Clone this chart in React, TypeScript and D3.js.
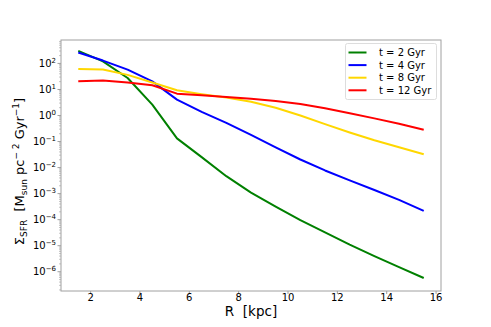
import React, { useEffect, useRef } from 'react';
import * as d3 from 'd3';

const radius = [1.5, 2.5, 3.5, 4.5, 5.5, 6.5, 7.5, 8.5, 9.5, 10.5, 11.5, 12.5, 13.5, 14.5, 15.5];
// log10 of sigma_SFR
const t2 = [2.48, 2.08, 1.44, 0.42, -0.88, -1.6, -2.33, -2.96, -3.5, -4.02, -4.49, -4.96, -5.4, -5.82, -6.24];
const t4 = [2.42, 2.11, 1.76, 1.31, 0.61, 0.14, -0.28, -0.74, -1.22, -1.69, -2.11, -2.49, -2.86, -3.24, -3.66];
const t8 = [1.79, 1.77, 1.56, 1.27, 0.97, 0.82, 0.69, 0.53, 0.3, 0.0, -0.33, -0.65, -0.95, -1.22, -1.49];
const t12 = [1.32, 1.34, 1.27, 1.16, 0.84, 0.78, 0.71, 0.64, 0.56, 0.44, 0.28, 0.09, -0.11, -0.32, -0.55];

const seriesNames = ['t = 2 Gyr', 't = 4 Gyr', 't = 8 Gyr', 't = 12 Gyr'];
const seriesColors = ['#008000', '#0000ff', '#ffd700', '#ff0000'];
const xTicks = [2, 4, 6, 8, 10, 12, 14, 16];
const yExps = [-6, -5, -4, -3, -2, -1, 0, 1, 2];

export default function App() {
  const ref = useRef<SVGSVGElement>(null);

  useEffect(() => {
    const width = 491;
    const height = 327;
    const left = 61, right = 441, top = 40, bottom = 291;
    const font = 'DejaVu Sans, sans-serif';

    const svg = d3.select(ref.current);
    svg.selectAll('*').remove();
    svg.attr('width', width).attr('height', height);

    const x = d3.scaleLinear().domain([0.8, 16.2]).range([left, right]);
    const y = d3.scaleLog().domain([Math.pow(10, -6.74), Math.pow(10, 2.9)]).range([bottom, top]);

    const data = [t2, t4, t8, t12].map(s => s.map((v, i) => ({ r: radius[i], v: Math.pow(10, v) })));

    const line = d3.line<{ r: number; v: number }>()
      .x(d => x(d.r))
      .y(d => y(d.v));

    svg.append('g').selectAll('path').data(data).enter()
      .append('path')
      .attr('d', d => line(d))
      .attr('fill', 'none')
      .attr('stroke', (d, i) => seriesColors[i])
      .attr('stroke-width', 2)
      .attr('stroke-linejoin', 'round');

    // spines
    svg.append('rect')
      .attr('x', left).attr('y', top)
      .attr('width', right - left).attr('height', bottom - top)
      .attr('fill', 'none').attr('stroke', '#a0a0a0').attr('stroke-width', 1);

    // x ticks
    const gx = svg.append('g');
    xTicks.forEach(t => {
      gx.append('line').attr('x1', x(t)).attr('x2', x(t)).attr('y1', bottom).attr('y2', bottom + 3)
        .attr('stroke', '#a0a0a0');
      gx.append('text').attr('x', x(t)).attr('y', bottom + 9.5)
        .attr('text-anchor', 'middle').attr('font-family', font).attr('font-size', 10)
        .attr('fill', '#000').text(t);
    });

    // y ticks, major and minor
    const gy = svg.append('g');
    yExps.forEach(e => {
      const yy = y(Math.pow(10, e));
      gy.append('line').attr('x1', left - 3.5).attr('x2', left).attr('y1', yy).attr('y2', yy)
        .attr('stroke', '#a0a0a0');
      const tx = gy.append('text').attr('x', left - 5).attr('y', yy + 3.5)
        .attr('text-anchor', 'end').attr('font-family', font).attr('font-size', 10).attr('fill', '#000');
      tx.append('tspan').text('10');
      tx.append('tspan').attr('dy', -4).attr('font-size', 7).text(e < 0 ? '\u2212' + Math.abs(e) : String(e));
    });
    for (let e = -7; e <= 2; e++) {
      for (let k = 2; k <= 9; k++) {
        const v = k * Math.pow(10, e);
        if (v < y.domain()[0] || v > y.domain()[1]) continue;
        const yy = y(v);
        gy.append('line').attr('x1', left - 2).attr('x2', left).attr('y1', yy).attr('y2', yy)
          .attr('stroke', '#a0a0a0').attr('stroke-width', 0.6);
      }
    }

    // axis labels
    svg.append('text').attr('x', (left + right) / 2).attr('y', 315.5)
      .attr('text-anchor', 'middle').attr('font-family', font).attr('font-size', 13.5)
      .attr('fill', '#000').style('white-space', 'pre').text('R  [kpc]');

    const yl = svg.append('text')
      .attr('transform', `translate(24, ${(top + bottom) / 2 + 6}) rotate(-90)`)
      .attr('text-anchor', 'middle').attr('font-family', font).attr('font-size', 13).attr('fill', '#000')
      .style('white-space', 'pre');
    yl.append('tspan').text('\u03a3');
    yl.append('tspan').attr('dy', 3).attr('font-size', 9).text('SFR');
    yl.append('tspan').attr('dy', -3).text('  [M');
    yl.append('tspan').attr('dy', 3).attr('font-size', 9).text('sun');
    yl.append('tspan').attr('dy', -3).text(' pc');
    yl.append('tspan').attr('dy', -5).attr('font-size', 9).text('\u2212 2');
    yl.append('tspan').attr('dy', 5).text(' Gyr');
    yl.append('tspan').attr('dy', -5).attr('font-size', 9).text('\u22121');
    yl.append('tspan').attr('dy', 5).text(']');

    // legend
    const lg = svg.append('g');
    lg.append('rect').attr('x', 345.5).attr('y', 43.5).attr('width', 91).attr('height', 56).attr('rx', 2)
      .attr('fill', '#fff').attr('fill-opacity', 0.8).attr('stroke', '#dddddd');
    seriesNames.forEach((n, i) => {
      const yy = 52.5 + i * 12.6;
      lg.append('line').attr('x1', 348.5).attr('x2', 366.5).attr('y1', yy).attr('y2', yy)
        .attr('stroke', seriesColors[i]).attr('stroke-width', 2);
      lg.append('text').attr('x', 379).attr('y', yy + 3.5).attr('font-family', font).attr('font-size', 10)
        .attr('fill', '#000').text(n);
    });
  }, []);

  return <svg ref={ref} style={{ position: 'absolute', left: 0, top: 0 }} />;
}
